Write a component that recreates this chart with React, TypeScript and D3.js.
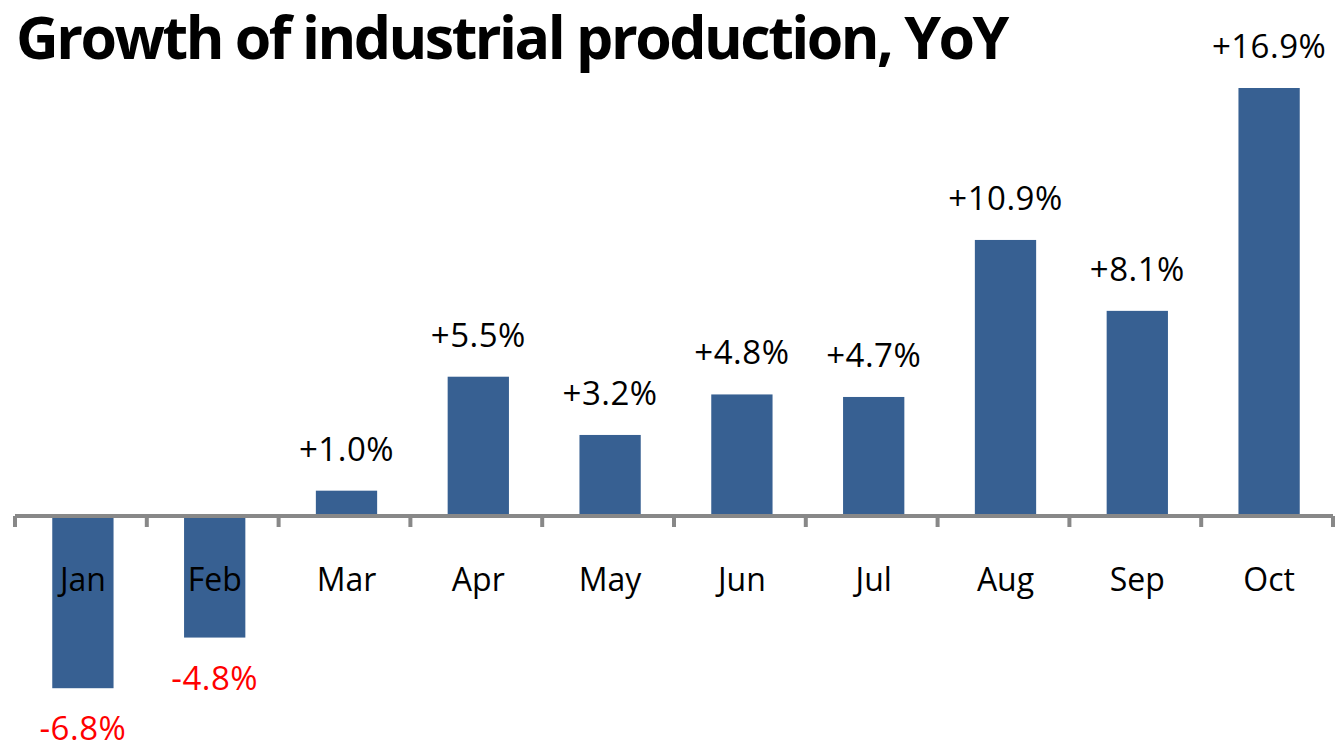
import React from "react";
import * as d3 from "d3";

const months = ["Jan", "Feb", "Mar", "Apr", "May", "Jun", "Jul", "Aug", "Sep", "Oct"];
const values = [-6.8, -4.8, 1.0, 5.5, 3.2, 4.8, 4.7, 10.9, 8.1, 16.9];
const title = "Growth of industrial production, YoY";

const W = 1335;
const H = 746;

export default function App() {
  const axisX = d3.scaleBand<string>().domain(months).range([15, 1333]).padding(0);
  const x = d3.scaleBand<string>().domain(months).range([17, 1335]).paddingInner(0.535).paddingOuter(0.2675);
  const y = d3.scaleLinear().domain([0, 16.9]).range([516, 88]);
  const fmt = (v: number) => (v > 0 ? "+" : "") + v.toFixed(1) + "%";
  const ticks = [...months.map((m) => axisX(m)!), 1333];
  return (
    <svg width={W} height={H} style={{ position: "absolute", left: 0, top: 0 }}>
      <text x={16} y={59} fontFamily="Open Sans" fontWeight={700} fontSize={59} letterSpacing={-2.5} fill="#000">
        {title}
      </text>
      {months.map((m, i) => {
        const v = values[i];
        const bx = x(m)!;
        const bw = x.bandwidth();
        const top = v >= 0 ? y(v) : y(0) + 2;
        const h = v >= 0 ? y(0) - y(v) : y(v) - y(0) - 2;
        return <rect key={m} x={bx} y={top} width={bw} height={h} fill="#376092" />;
      })}
      <line x1={15} x2={1333} y1={516} y2={516} stroke="#888888" strokeWidth={4} />
      {ticks.map((t, i) => (
        <line key={i} x1={t} x2={t} y1={516} y2={527} stroke="#888888" strokeWidth={4} />
      ))}
      {months.map((m) => (
        <text key={m} x={x(m)! + x.bandwidth() / 2} y={591} textAnchor="middle" fontFamily="Open Sans" fontSize={32} fill="#000">
          {m}
        </text>
      ))}
      {months.map((m, i) => {
        const v = values[i];
        const cx = x(m)! + x.bandwidth() / 2;
        const ly = v >= 0 ? y(v) - 30 : y(v) + 52;
        return (
          <text key={m} x={cx} y={ly} textAnchor="middle" fontFamily="Open Sans" fontSize={33} letterSpacing={0.5} fill={v >= 0 ? "#000" : "#ff0000"}>
            {fmt(v)}
          </text>
        );
      })}
    </svg>
  );
}
